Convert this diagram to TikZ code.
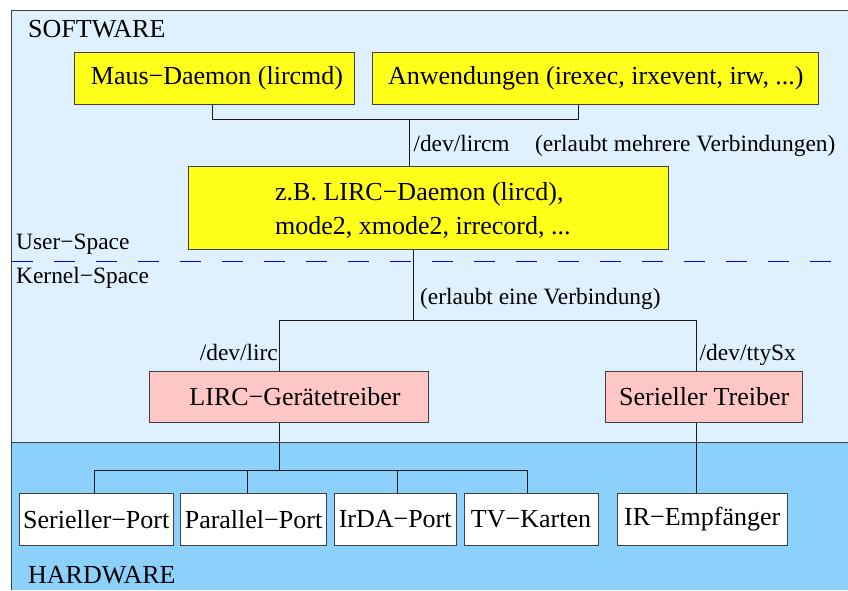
\documentclass[tikz,border=0pt]{standalone}
\usepackage{fontspec}
\setmainfont{Liberation Serif}
\usetikzlibrary{calc}
\definecolor{swbg}{HTML}{DFF1FF}
\definecolor{hwbg}{HTML}{8CD1FB}
\definecolor{ybox}{HTML}{FFFF1A}
\definecolor{pbox}{HTML}{FFC6C6}
\definecolor{edge}{HTML}{404040}
\definecolor{wire}{HTML}{1A1A1A}
\tikzset{
  txt/.style={font=\fontsize{26}{34}\selectfont, inner sep=0pt},
  lbl/.style={font=\fontsize{23.4}{28}\selectfont, inner sep=0pt},
  box/.style={txt, draw=edge, line width=1pt, inner sep=0pt},
  ybx/.style={box, fill=ybox},
  pbx/.style={box, fill=pbox},
  wbx/.style={box, fill=white},
  conn/.style={draw=wire, line width=1pt},
  frame/.style={draw=edge, line width=1pt},
}
\begin{document}
\begin{tikzpicture}[x=1pt,y=-1pt]
\useasboundingbox (0,0) rectangle (848,590);
% areas
\fill[swbg] (11.7,10) rectangle (848,442.7);
\fill[hwbg] (11.7,442.7) rectangle (848,590);
\draw[frame] (11.7,590) -- (11.7,10) -- (848,10);
\draw[frame] (11.7,442.7) -- (848,442.7);
% user/kernel boundary
\draw[blue, line width=1pt, dash pattern=on 21 off 21] (11.7,261) -- (831,261);

% area labels
\node[txt, anchor=base west] (sw) at (28,37) {SOFTWARE};
\node[txt, anchor=base west] (hw) at (28,583) {HARDWARE};
\node[lbl, anchor=base west] (us) at (16,249.3) {User−Space};
\node[lbl, anchor=base west] (ks) at (16,283.5) {Kernel−Space};

% user space programs
\node[ybx, minimum width=280, minimum height=51.6] (maus) at (214,78.5) {\hspace{6pt}Maus−Daemon (lircmd)};
\node[ybx, minimum width=445.7, minimum height=51.6] (anw) at (595.8,78.5) {Anwendungen (irexec, irxevent, irw, ...)};
\node[ybx, minimum width=480.3, minimum height=82.7] (lircd) at (428.8,208.3) {};
% two-line text, anchored on the baseline of its last line
\node[txt, anchor=base west, align=left] (lircdtxt) at (275,234)
  {z.B. LIRC−Daemon (lircd),\\mode2, xmode2, irrecord, ...};

% kernel drivers
\node[pbx, minimum width=279.4, minimum height=51.4] (lircdrv) at (289,397) {\hspace{12pt}LIRC−Gerätetreiber};
\node[pbx, minimum width=197, minimum height=51.4] (serdrv) at (704.2,397) {Serieller Treiber\hspace{8pt}};

% hardware
\node[wbx, minimum width=153.7, minimum height=51.7] (pser) at (96.2,519.2) {Serieller−Port};
\node[wbx, minimum width=145.6, minimum height=51.7] (ppar) at (253.5,519.2) {Parallel−Port};
\node[wbx, minimum width=122.3, minimum height=51.7] (pirda) at (395.2,519.2) {IrDA−Port};
\node[wbx, minimum width=134, minimum height=51.7] (ptv) at (531,519.2) {TV−Karten};
\node[wbx, minimum width=169.7, minimum height=51.7] (pir) at (702.2,519.2) {IR−Empfänger};

% junction points
\coordinate (j1) at (409,119.7);
\coordinate (j2) at (413,320.7);
\coordinate (j3) at (279,470);

% connectors: programs to lircd
\draw[conn] (212,0 |- maus.south) |- (578.3,119.7) -- (578.3,0 |- anw.south);
\draw[conn] (j1) -- (j1 |- lircd.north);
\node[lbl, anchor=base west] (lircm) at (413.3,151.7) {/dev/lircm};
\node[lbl, anchor=base west] (multi) at (535,151.7) {(erlaubt mehrere Verbindungen)};

% lircd to drivers
\draw[conn] (j2 |- lircd.south) -- (j2);
\draw[conn] (279,0 |- lircdrv.north) |- (696.3,320.7) -- (696.3,0 |- serdrv.north);
\node[lbl, anchor=base west] (single) at (420,304) {(erlaubt eine Verbindung)};
\node[lbl, anchor=base east] (devlirc) at (278,360) {/dev/lirc};
\node[lbl, anchor=base west] (devtty) at (699.5,360) {/dev/ttySx};

% drivers to hardware
\draw[conn] (j3 |- lircdrv.south) -- (j3);
\draw[conn] (94,0 |- pser.north) |- (527,470) -- (527,0 |- ptv.north);
\draw[conn] (247.7,470) -- (247.7,0 |- ppar.north);
\draw[conn] (397,470) -- (397,0 |- pirda.north);
\draw[conn] (696.3,0 |- serdrv.south) -- (696.3,0 |- pir.north);
\end{tikzpicture}
\end{document}
